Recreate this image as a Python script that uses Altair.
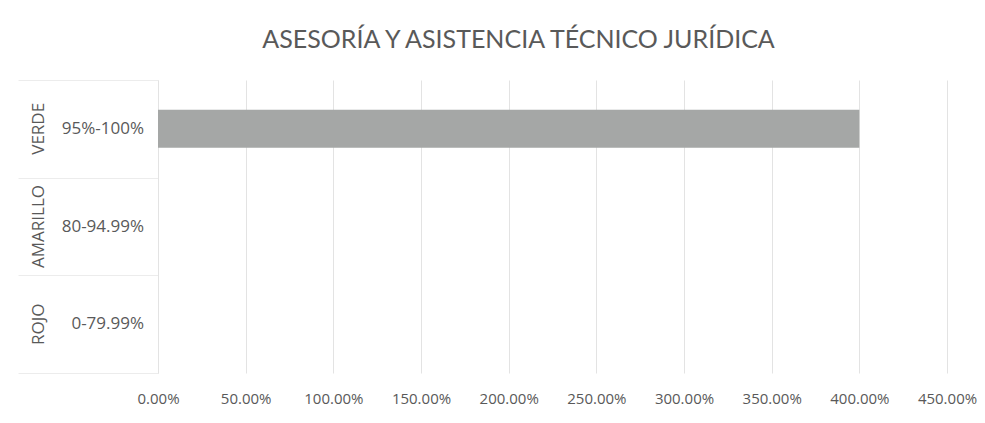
import altair as alt
import pandas as pd

grupos = ["VERDE", "AMARILLO", "ROJO"]
rangos = ["95%-100%", "80-94.99%", "0-79.99%"]
valores = [4.0, 0.0, 0.0]
x_ticks = [0, 0.5, 1.0, 1.5, 2.0, 2.5, 3.0, 3.5, 4.0, 4.5]

df = pd.DataFrame({"grupo": grupos, "rango": rangos, "valor": valores})

TFONT = "Lato"
FONT = "Open Sans"
TXT = "#595959"
GRID = "#e3e3e3"

y_enc = alt.Y(
    "rango:N",
    sort=rangos,
    scale=alt.Scale(paddingInner=0, paddingOuter=0),
    axis=alt.Axis(
        title=None,
        labels=False,
        domain=True,
        domainColor=GRID,
        ticks=True,
        tickBand="extent",
        tickSize=140,
        tickColor="#ececec",
        grid=False,
    ),
)

x_enc = alt.X(
    "valor:Q",
    scale=alt.Scale(domain=[0, 4.5], nice=False),
    axis=alt.Axis(
        title=None,
        values=x_ticks,
        format=".2%",
        grid=True,
        gridColor=GRID,
        domain=False,
        ticks=False,
        labelFont=FONT,
        labelFontSize=15,
        labelColor=TXT,
        labelPadding=18,
        labelFlush=False,
        labelOverlap=False,
    ),
)

bars = alt.Chart(df).mark_bar(color="#a5a7a6", size=38).encode(x=x_enc, y=y_enc)

inner = alt.Chart(df).mark_text(
    align="right", baseline="middle", font=FONT, fontSize=17, color=TXT
).encode(
    y=alt.Y("rango:N", sort=rangos),
    x=alt.value(-14),
    text="rango:N",
)

outer = alt.Chart(df).mark_text(
    align="center", baseline="middle", angle=270, font=FONT, fontSize=17, color=TXT
).encode(
    y=alt.Y("rango:N", sort=rangos),
    x=alt.value(-119),
    text="grupo:N",
)

chart = (
    alt.layer(bars, inner, outer)
    .properties(
        width=789,
        height=293,
        autosize=alt.AutoSizeParams(type="none"),
        padding={"left": 150, "top": 72, "right": 30, "bottom": 40},
        title=alt.TitleParams(
            "ASESORÍA Y ASISTENCIA TÉCNICO JURÍDICA",
            font=TFONT,
            fontSize=25,
            fontWeight="normal",
            color=TXT,
            anchor="middle",
            dx=-34,
            offset=27,
        ),
    )
    .configure_view(stroke=None)
)

chart.save("out.html", embed_options={"renderer": "svg", "actions": False})
